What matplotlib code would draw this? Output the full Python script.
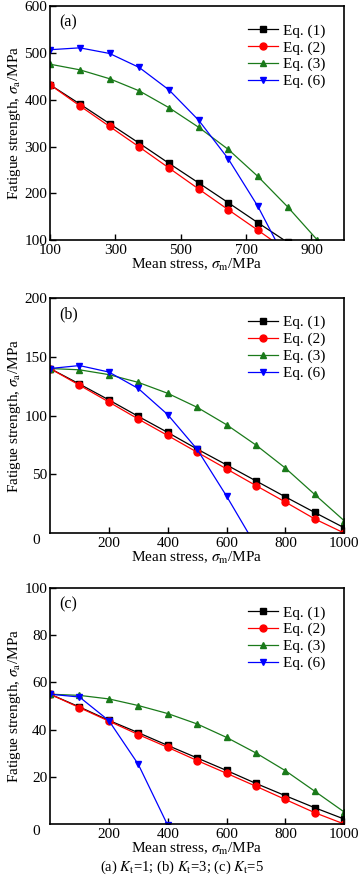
import numpy as np
import matplotlib.pyplot as plt

plt.rcParams['font.family'] = ['Liberation Serif', 'DejaVu Serif']
plt.rcParams['mathtext.fontset'] = 'stix'

# ==============================
# DATA
# ==============================
# (a) Kt = 1
xa = [100, 191, 282, 373, 464, 555, 645, 736, 827, 918]
a_eq1 = [432, 391, 349, 307, 264, 222, 180, 137, 95]
a_eq2 = [432, 387, 343, 299, 254, 209, 165, 121, 76]
a_eq3 = [476, 464, 445, 419, 383, 341, 294, 236, 171, 100]
a_eq6 = [507, 511, 499, 469, 421, 356, 274, 172, 50]

# (b) Kt = 3
xb = [0, 100, 200, 300, 400, 500, 600, 700, 800, 900, 1000]
b_eq1 = [140, 126.8, 113.3, 99.3, 85.6, 71.5, 58, 44.4, 30.8, 17.5, 4.5]
b_eq2 = [140, 125.8, 111.5, 97, 83, 68.8, 54.6, 40.4, 26.4, 12, 0]
b_eq3 = [140, 138.9, 134.8, 128.2, 118.9, 107, 92.2, 74.9, 55.3, 32.8, 10.5]
b_eq6 = [140, 142.5, 137, 123, 100.8, 71.3, 31.5, -11]

# (c) Kt = 5
xc = [0, 100, 200, 300, 400, 500, 600, 700, 800, 900, 1000]
c_eq1 = [55, 49.6, 43.9, 38.7, 33.3, 28, 22.7, 17.2, 12, 6.9, 2.1]
c_eq2 = [55, 49.3, 43.6, 37.9, 32.5, 26.9, 21.5, 16, 10.4, 4.8, 0]
c_eq3 = [55, 54.5, 53, 50.2, 46.8, 42.4, 36.7, 30.1, 22.6, 13.9, 5.1]
c_eq6 = [55, 53.8, 43.8, 25.3, -0.5]

labels = ["Eq. (1)", "Eq. (2)", "Eq. (3)", "Eq. (6)"]
colors = ["black", "red", "#1a7a1a", "blue"]
markers = ["s", "o", "^", "v"]

panels = [
    ("(a)", xa, [a_eq1, a_eq2, a_eq3, a_eq6], (100, 1000), (100, 600),
     [100, 300, 500, 700, 900], [100, 200, 300, 400, 500, 600], [0.139, 0.730, 0.817, 0.263]),
    ("(b)", xb, [b_eq1, b_eq2, b_eq3, b_eq6], (0, 1000), (0, 200),
     [200, 400, 600, 800, 1000], [0, 50, 100, 150, 200], [0.139, 0.4004, 0.817, 0.2644]),
    ("(c)", xc, [c_eq1, c_eq2, c_eq3, c_eq6], (0, 1000), (0, 100),
     [200, 400, 600, 800, 1000], [0, 20, 40, 60, 80, 100], [0.139, 0.0731, 0.817, 0.2655]),
]

fig = plt.figure(figsize=(3.6, 8.89), dpi=100)

for tag, x, series, xl, yl, xt, yt, pos in panels:
    ax = fig.add_axes(pos)
    for ys, lab, col, mk in zip(series, labels, colors, markers):
        ax.plot(x[:len(ys)], ys, color=col, marker=mk, ms=5, lw=0.9, label=lab)
    ax.set_xlim(*xl)
    ax.set_ylim(*yl)
    ax.set_xticks(xt)
    ax.set_yticks(yt)
    if xl[0] == 0:
        # the shared corner "0"
        ax.text(-0.035, -0.03, "0", transform=ax.transAxes, ha="right", va="center", fontsize=11)
        ax.set_yticks(yt[1:])
    ax.tick_params(direction="in", length=4, width=1, labelsize=11, top=False, right=False, pad=2)
    ax.tick_params(axis="x", pad=3)
    for s in ax.spines.values():
        s.set_linewidth(1.2)
    ax.set_xlabel(r"Mean stress, $\sigma_{\rm m}$/MPa", fontsize=11, labelpad=0)
    ax.set_ylabel(r"Fatigue strength, $\sigma_{\rm a}$/MPa", fontsize=11, labelpad=1)
    ax.text(0.03, 0.965, tag, transform=ax.transAxes, ha="left", va="top", fontsize=11.5)
    ax.legend(loc="upper right", bbox_to_anchor=(0.935, 0.925), frameon=False, fontsize=11,
              handlelength=2.0, handletextpad=0.3, labelspacing=0.2, borderaxespad=0.0,
              borderpad=0.0)

fig.text(0.505, 0.024, r"(a) $K_{\rm t}$=1; (b) $K_{\rm t}$=3; (c) $K_{\rm t}$=5",
         ha="center", va="center", fontsize=10.5)

fig.savefig("out.png", dpi=100)
